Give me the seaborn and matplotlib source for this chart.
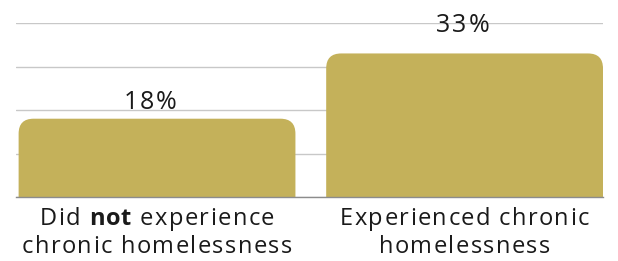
import numpy as np
import pandas as pd
import matplotlib
matplotlib.use("Agg")
import matplotlib.pyplot as plt
from matplotlib.path import Path
from matplotlib.patches import PathPatch
from matplotlib.font_manager import FontProperties
import seaborn as sns

# data
label_line1 = [[("Did ", "normal"), ("not", "bold"), (" experience", "normal")],
               [("Experienced chronic", "normal")]]
label_line2 = ["chronic homelessness", "homelessness"]
categories = ["Did not experience chronic homelessness",
              "Experienced chronic homelessness"]
values = [18, 33]
value_labels = ["18%", "33%"]

sns.set_theme(style="white")
plt.rcParams['font.family'] = ['Open Sans', 'DejaVu Sans']

df = pd.DataFrame({"cat": categories, "val": values})

fig = plt.figure(figsize=(6.18, 2.61), dpi=100)
ax = fig.add_axes([16 / 618, 64 / 261, 587 / 618, 174 / 261])

bar_color = "#C4B15A"
text_color = "#1a1a1a"
sns.barplot(data=df, x="cat", y="val", color=bar_color, width=0.9,
            saturation=1, ax=ax, zorder=2)

ax.set_xlim(-0.4585, 1.45)
ax.set_ylim(0, 40)

# swap plain bars for bars with rounded top corners
px_x = 587 / (1.45 + 0.4585)
px_y = 174 / 40
r = 15
for p in list(ax.patches):
    x0, y0 = p.get_x(), p.get_y()
    x1, y1 = x0 + p.get_width(), y0 + p.get_height()
    rx, ry = r / px_x, r / px_y
    verts = [(x0, y0), (x0, y1 - ry), (x0, y1), (x0 + rx, y1),
             (x1 - rx, y1), (x1, y1), (x1, y1 - ry), (x1, y0), (x0, y0)]
    codes = [Path.MOVETO, Path.LINETO, Path.CURVE3, Path.CURVE3,
             Path.LINETO, Path.CURVE3, Path.CURVE3, Path.LINETO, Path.CLOSEPOLY]
    ax.add_patch(PathPatch(Path(verts, codes), facecolor=bar_color,
                           edgecolor="none", zorder=2))
    p.remove()

ax.set_yticks([0, 10, 20, 30, 40])
ax.set_yticklabels([])
ax.set_xticks([0, 1])
ax.set_xticklabels([])
ax.tick_params(axis="both", length=0)
ax.yaxis.grid(True, color="#c8c8c8", linewidth=1, zorder=0)
ax.set_axisbelow(True)
ax.set_xlabel("")
ax.set_ylabel("")
for s in ["top", "left", "right"]:
    ax.spines[s].set_visible(False)
ax.spines["bottom"].set_color("#8c8c8c")
ax.spines["bottom"].set_linewidth(1)

# text with letter spacing (matplotlib has no tracking option)
renderer = fig.canvas.get_renderer()


def advance(ch, fp):
    w_ref = renderer.get_text_width_height_descent("xx", fp, ismath=False)[0]
    w = renderer.get_text_width_height_descent("x" + ch + "x", fp, ismath=False)[0]
    return w - w_ref


def tracked(cx, y, runs, size, track):
    pieces = []
    for s, weight in runs:
        fp = FontProperties(family="Open Sans", size=size, weight=weight)
        for ch in s:
            pieces.append((ch, fp, advance(ch, fp)))
    total = sum(p[2] for p in pieces) + track * (len(pieces) - 1)
    x = cx - total / 2
    for ch, fp, w in pieces:
        if ch != " ":
            fig.text(x, y, ch, fontproperties=fp, transform=None,
                     ha="left", va="baseline", color=text_color)
        x += w + track


# category labels under the bars
for i in range(len(categories)):
    cx = ax.transData.transform((i, 0))[0]
    tracked(cx, 261 - 225, label_line1[i], 17, 1.4)
    tracked(cx, 261 - 253, [(label_line2[i], "normal")], 17, 1.4)

# value labels above the bars
offsets = [(-7, 10), (-2, 21)]
for i, (v, lab) in enumerate(zip(values, value_labels)):
    cx, cy = ax.transData.transform((i, v))
    tracked(cx + offsets[i][0], cy + offsets[i][1], [(lab, "normal")], 18, 1.8)

fig.savefig("out.png", dpi=100)
